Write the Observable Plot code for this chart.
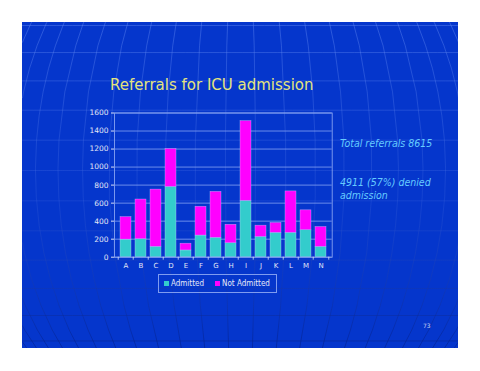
<!DOCTYPE html>
<html><head><meta charset="utf-8">
<script src="https://cdn.jsdelivr.net/npm/d3@7"></script>
<script src="https://cdn.jsdelivr.net/npm/@observablehq/plot@0.6"></script>
<style>
body{margin:0;background:#fff;width:480px;height:371px;position:relative;overflow:hidden;font-family:"DejaVu Sans",sans-serif;}
#slide{position:absolute;left:22px;top:22px;width:436px;height:326px;background:#0536cc;overflow:hidden;}
.abs{position:absolute;white-space:nowrap;}
#title{left:88px;top:54px;font-size:15px;color:#e4e47e;}
.note{font-family:"DejaVu Sans Condensed","DejaVu Sans",sans-serif;font-style:italic;color:#66ccff;font-size:10.5px;line-height:13px;}
#legend{left:136px;top:252px;width:117px;height:17px;border:1px solid #7f9cf0;display:flex;align-items:center;font-size:8px;color:#e6e8f6;font-family:"DejaVu Sans Condensed","DejaVu Sans",sans-serif;}
#legend .item{display:flex;align-items:center;margin-left:5px;margin-right:6px;}
#legend .sw{width:5px;height:5px;margin-right:2px;}
#page{left:401px;top:300px;font-size:6px;color:#c8d0f0;}
</style></head><body>
<div id="slide"></div>
<script>
// ---- data ----
const categories = ["A","B","C","D","E","F","G","H","I","J","K","L","M","N"];
const admitted    = [195, 200, 115, 780,  75, 240, 215, 155, 625, 225, 270, 270, 300, 115];
const notAdmitted = [250, 440, 635, 420,  75, 320, 510, 205, 885, 125, 110, 460, 220, 220];
const seriesNames = ["Admitted", "Not Admitted"];
const seriesColors = ["#33cccc", "#ff00ff"];
const yTicks = [0, 200, 400, 600, 800, 1000, 1200, 1400, 1600];
const titleText = "Referrals for ICU admission";
const noteLines = ["Total referrals 8615", "4911 (57%) denied", "admission"];
const pageNumber = "73";

const slide = document.getElementById("slide");

// ---- background globe graticule ----
const bg = Plot.plot({
  width: 436, height: 326, margin: 0,
  projection: ({width, height}) => d3.geoOrthographic().scale(290).translate([width / 2, 148]).rotate([3, 0]),
  style: {background: "transparent"},
  marks: [
    Plot.geo(d3.geoGraticule().step([6, 6]).extent([[-180, -84], [180, 84]])(), {stroke: "#6f95ff", strokeWidth: 0.8})
  ]
});
bg.style.position = "absolute"; bg.style.left = "0px"; bg.style.top = "0px";
{
  const defs = d3.select(bg).insert("defs", ":first-child");
  const g = defs.append("linearGradient").attr("id", "bgGrad").attr("gradientUnits", "userSpaceOnUse")
    .attr("x1", 0).attr("y1", 0).attr("x2", 0).attr("y2", 326);
  g.append("stop").attr("offset", "0").attr("stop-color", "#6a90f6").attr("stop-opacity", 0.5);
  g.append("stop").attr("offset", "0.55").attr("stop-color", "#3a62dc").attr("stop-opacity", 0.35);
  g.append("stop").attr("offset", "1").attr("stop-color", "#001a80").attr("stop-opacity", 0.6);
  d3.select(bg).selectAll("g[aria-label=geo]").attr("stroke", "url(#bgGrad)");
}
slide.appendChild(bg);

// ---- chart ----
const rows = [];
categories.forEach((c, i) => rows.push({category: c, series: seriesNames[0], value: admitted[i]}));
categories.forEach((c, i) => rows.push({category: c, series: seriesNames[1], value: notAdmitted[i]}));

const gridColor = "#86a2f2";
const chart = Plot.plot({
  width: 270, height: 180,
  marginLeft: 44, marginRight: 8.3, marginTop: 12.5, marginBottom: 23.3,
  style: {background: "transparent", color: "#e2e6f6", fontSize: "7px", fontFamily: "'DejaVu Sans',sans-serif"},
  x: {domain: categories, paddingInner: 0.29, paddingOuter: 0.145, label: null},
  y: {domain: [0, 1600], label: null},
  color: {domain: seriesNames, range: seriesColors},
  marks: [
    Plot.gridY(yTicks, {stroke: gridColor, strokeOpacity: 1, strokeWidth: 0.8}),
    Plot.frame({stroke: gridColor, strokeWidth: 0.9}),
    Plot.barY(rows, {x: "category", y: "value", fill: "series", stroke: "#c8d2ff", strokeWidth: 0.5, strokeOpacity: 0.7}),
    Plot.ruleX(categories, {x: d => d, y1: 0, y2: 0, insetBottom: -3, dx: -7.78, stroke: "#d8ddf4", strokeWidth: 0.8}),
    Plot.ruleX(categories.slice(-1), {x: d => d, y1: 0, y2: 0, insetBottom: -3, dx: 7.78, stroke: "#d8ddf4", strokeWidth: 0.8}),
    Plot.axisY(yTicks, {tickSize: 3, tickPadding: 3, stroke: "#d8ddf4", label: null, tickFormat: d => String(d), fontSize: 7.5}),
    Plot.axisX({tickSize: 0, tickPadding: 6, label: null})
  ]
});
chart.style.position = "absolute"; chart.style.left = "48px"; chart.style.top = "78px";
slide.appendChild(chart);

// ---- texts ----
const t = document.createElement("div");
t.className = "abs"; t.id = "title"; t.textContent = titleText;
slide.appendChild(t);

const n1 = document.createElement("div");
n1.className = "abs note"; n1.style.left = "318px"; n1.style.top = "115px"; n1.textContent = noteLines[0];
slide.appendChild(n1);
const n2 = document.createElement("div");
n2.className = "abs note"; n2.style.left = "318px"; n2.style.top = "154px"; n2.innerHTML = noteLines[1] + "<br>" + noteLines[2];
slide.appendChild(n2);

const lg = document.createElement("div");
lg.className = "abs"; lg.id = "legend";
seriesNames.forEach((s, i) => {
  const it = document.createElement("div"); it.className = "item";
  const sw = document.createElement("div"); sw.className = "sw"; sw.style.background = seriesColors[i];
  const tx = document.createElement("span"); tx.textContent = s;
  it.appendChild(sw); it.appendChild(tx); lg.appendChild(it);
});
slide.appendChild(lg);

const pg = document.createElement("div");
pg.className = "abs"; pg.id = "page"; pg.textContent = pageNumber;
slide.appendChild(pg);
</script>
</body></html>
